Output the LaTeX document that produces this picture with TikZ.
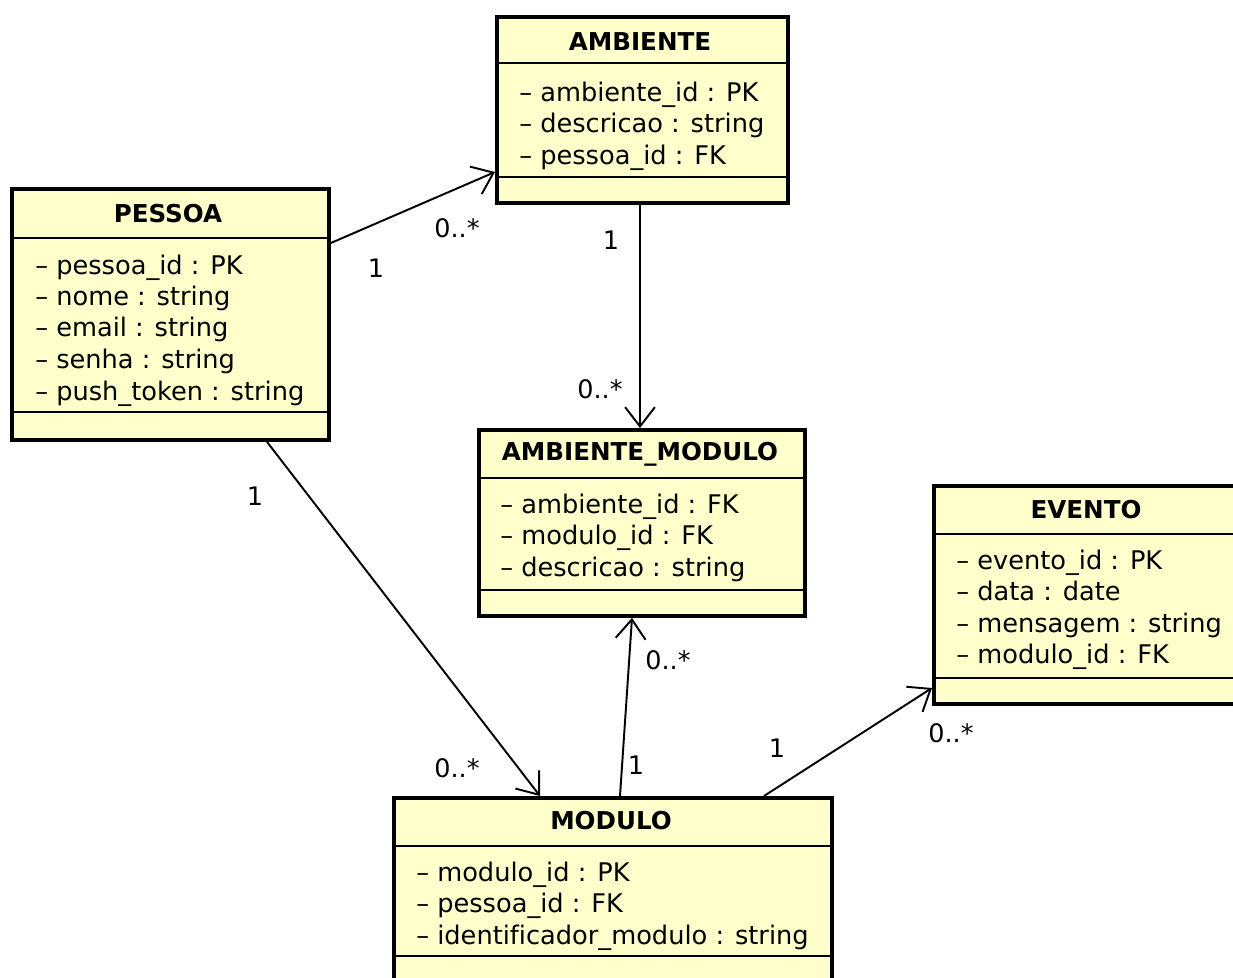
\documentclass[tikz,border=0pt]{standalone}
\usepackage{fontspec}
\setmainfont[Ligatures=NoCommon]{DejaVu Sans}
\usetikzlibrary{arrows.meta,calc}
\definecolor{classfill}{RGB}{255,255,204}
\tikzset{
  classbox/.style={draw=black, line width=2.2pt, fill=classfill, rectangle, anchor=north west, inner sep=0pt},
  sepline/.style={line width=0.9pt},
  classtitle/.style={font=\fontsize{14}{16}\selectfont\bfseries, inner sep=0pt, anchor=center},
  attr/.style={font=\fontsize{14.6}{17}\selectfont, inner sep=0pt, anchor=west, text height=0.75em, text depth=0.2em},
  mult/.style={font=\fontsize{14.5}{17}\selectfont, inner sep=0pt, anchor=center},
  assoc/.style={line width=1.1pt, -{Straight Barb[length=11pt,width=17pt,line width=1.1pt]}},
}
\begin{document}
\begin{tikzpicture}[x=0.02cm,y=-0.02cm]
\useasboundingbox (0,0) rectangle (1233,977);
\fill[white] (0,0) rectangle (1233,977);

% ---------- AMBIENTE ----------
\node[classbox, minimum width=291*0.02cm, minimum height=186*0.02cm] (amb) at (495,15) {};
\draw[sepline] ($(amb.north west)+(0,48)$) -- ($(amb.north east)+(0,48)$);
\draw[sepline] ($(amb.north west)+(0,162)$) -- ($(amb.north east)+(0,162)$);
\node[classtitle] (ambT) at (640,42) {AMBIENTE};
\node[attr] (amb1) at (519,97) {– ambiente\_id : PK};
\node[attr] (amb2) at (519,128) {– descricao : string};
\node[attr] (amb3) at (519,160) {– pessoa\_id : FK};

% ---------- PESSOA ----------
\node[classbox, minimum width=317*0.02cm, minimum height=251*0.02cm] (pes) at (10,187) {};
\draw[sepline] ($(pes.north west)+(0,51)$) -- ($(pes.north east)+(0,51)$);
\draw[sepline] ($(pes.north west)+(0,225)$) -- ($(pes.north east)+(0,225)$);
\node[classtitle] (pesT) at (168,214) {PESSOA};
\node[attr] (pes1) at (35,270) {– pessoa\_id : PK};
\node[attr] (pes2) at (35,301) {– nome : string};
\node[attr] (pes3) at (35,332) {– email : string};
\node[attr] (pes4) at (35,364) {– senha : string};
\node[attr] (pes5) at (35,396) {– push\_token : string};

% ---------- AMBIENTE_MODULO ----------
\node[classbox, minimum width=326*0.02cm, minimum height=186*0.02cm] (am) at (477,428) {};
\draw[sepline] ($(am.north west)+(0,50)$) -- ($(am.north east)+(0,50)$);
\draw[sepline] ($(am.north west)+(0,162)$) -- ($(am.north east)+(0,162)$);
\node[classtitle] (amT) at (640,454) {AMBIENTE\_MODULO};
\node[attr] (am1) at (500,509) {– ambiente\_id : FK};
\node[attr] (am2) at (500,540) {– modulo\_id : FK};
\node[attr] (am3) at (500,572) {– descricao : string};

% ---------- EVENTO ----------
\node[classbox, minimum width=320*0.02cm, minimum height=218*0.02cm] (evt) at (932,484) {};
\draw[sepline] ($(evt.north west)+(0,50)$) -- ($(evt.north east)+(0,50)$);
\draw[sepline] ($(evt.north west)+(0,194)$) -- ($(evt.north east)+(0,194)$);
\node[classtitle] (evtT) at (1086,510) {EVENTO};
\node[attr] (evt1) at (956,565) {– evento\_id : PK};
\node[attr] (evt2) at (956,596) {– data : date};
\node[attr] (evt3) at (956,628) {– mensagem : string};
\node[attr] (evt4) at (956,659) {– modulo\_id : FK};

% ---------- MODULO ----------
\node[classbox, minimum width=438*0.02cm, minimum height=200*0.02cm] (mod) at (392,796) {};
\draw[sepline] ($(mod.north west)+(0,50)$) -- ($(mod.north east)+(0,50)$);
\draw[sepline] ($(mod.north west)+(0,160)$) -- ($(mod.north east)+(0,160)$);
\node[classtitle] (modT) at (611,821) {MODULO};
\node[attr] (mod1) at (416,877) {– modulo\_id : PK};
\node[attr] (mod2) at (416,908) {– pessoa\_id : FK};
\node[attr] (mod3) at (416,940) {– identificador\_modulo : string};

% ---------- associations ----------
\draw[assoc] ($(pes.north east)+(0,56)$) -- ($(amb.north west)+(0,157)$);
\draw[assoc] ($(amb.south west)+(145,0)$) -- ($(am.north west)+(163,0)$);
\draw[assoc] ($(pes.south west)+(257,0)$) -- ($(mod.north west)+(148,0)$);
\draw[assoc] ($(mod.north west)+(228,0)$) -- ($(am.south west)+(155,0)$);
\draw[assoc] ($(mod.north west)+(372,0)$) -- ($(evt.north west)+(0,204)$);

% ---------- multiplicities ----------
\node[mult] (m1a) at (376,268) {1};
\node[mult] (m1b) at (457,228) {0..*};
\node[mult] (m2a) at (611,240) {1};
\node[mult] (m2b) at (600,389) {0..*};
\node[mult] (m3a) at (255,496) {1};
\node[mult] (m3b) at (457,768) {0..*};
\node[mult] (m4a) at (668,660) {0..*};
\node[mult] (m4b) at (636,765) {1};
\node[mult] (m5a) at (777,748) {1};
\node[mult] (m5b) at (951,733) {0..*};
\end{tikzpicture}
\end{document}
